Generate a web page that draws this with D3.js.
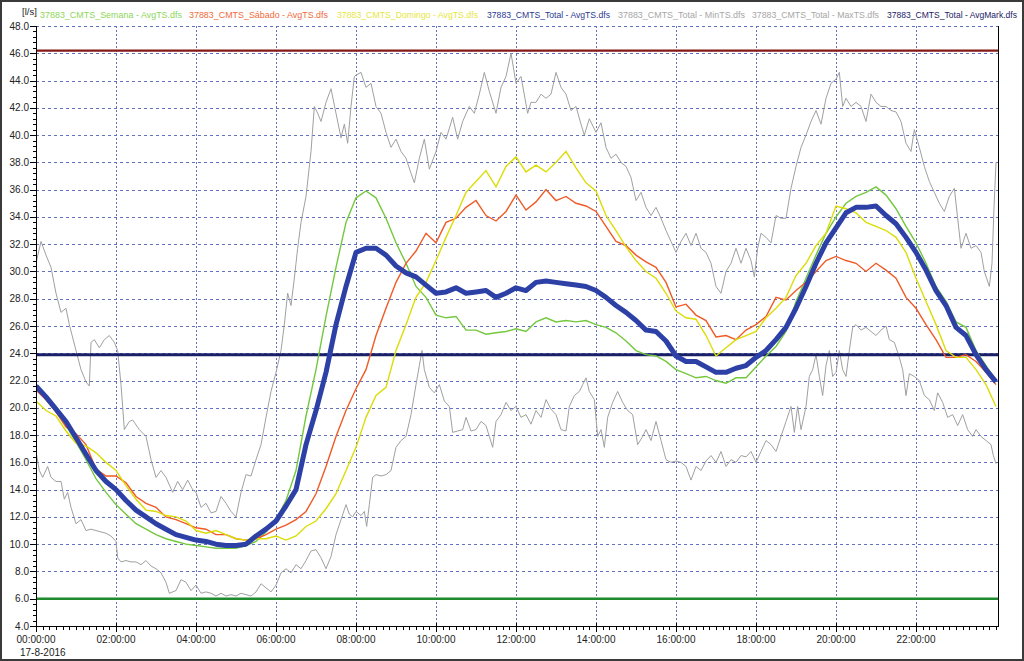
<!DOCTYPE html>
<html><head><meta charset="utf-8">
<script src="https://cdn.jsdelivr.net/npm/d3@7"></script>
<style>body{margin:0;background:#fff}svg{display:block}</style>
</head><body><svg id="c" width="1024" height="661"></svg>
<script>
// ---- DATA ----
const legendLabels = ["37883_CMTS_Semana - AvgTS.dfs","37883_CMTS_Sábado - AvgTS.dfs","37883_CMTS_Domingo - AvgTS.dfs","37883_CMTS_Total - AvgTS.dfs","37883_CMTS_Total - MinTS.dfs","37883_CMTS_Total - MaxTS.dfs","37883_CMTS_Total - AvgMark.dfs"];
const unitLabel = "[l/s]";
const dateLabel = "17-8-2016";
const yTicks = [4,6,8,10,12,14,16,18,20,22,24,26,28,30,32,34,36,38,40,42,44,46,48];
const xTickLabels = ["00:00:00","02:00:00","04:00:00","06:00:00","08:00:00","10:00:00","12:00:00","14:00:00","16:00:00","18:00:00","20:00:00","22:00:00"];
const stepMinutes = 15;
// 15-minute averages 00:00 .. 24:00
const semana = [21.5,20.6,19.7,18.7,17.5,16.2,14.8,13.8,12.9,12.2,11.5,11.1,10.7,10.4,10.2,10.0,9.9,9.8,9.7,9.7,9.7,9.9,10.2,10.9,11.8,13.2,15.4,19.4,22.8,26.7,30.3,33.6,35.4,35.9,35.4,33.9,32.1,30.6,28.9,28.1,26.8,26.6,26.7,25.7,25.7,25.4,25.5,25.6,25.8,25.6,26.3,26.6,26.3,26.4,26.3,26.4,26.1,25.9,25.5,24.9,24.2,23.9,23.8,23.4,22.8,22.5,22.2,22.3,22.0,21.8,22.2,22.2,23.0,23.8,24.5,25.6,27.8,29.5,31.2,32.8,34.0,35.0,35.5,35.8,36.2,35.6,34.6,33.3,32.1,30.6,28.9,27.8,26.3,25.9,24.2,23.1,22.0];
const sabado = [21.3,20.6,19.7,18.6,18.1,17.3,15.5,15.0,15.0,14.5,13.5,13.0,12.7,12.0,11.8,11.5,11.2,11.1,10.7,10.7,10.4,10.3,10.4,10.7,11.1,11.4,11.8,12.4,13.7,15.7,17.9,19.8,21.4,22.8,25.3,27.3,29.2,30.6,31.5,32.8,32.1,33.6,33.9,34.7,35.2,34.1,33.7,34.4,35.6,34.5,35.1,36.0,35.2,35.5,35.0,34.8,34.4,33.3,32.2,31.9,31.2,30.7,30.3,29.2,27.4,27.6,26.8,26.4,25.2,25.3,25.0,25.7,26.1,26.7,28.1,27.9,28.6,29.2,30.0,30.8,31.1,30.8,30.6,30.0,30.6,30.1,29.5,28.1,27.3,26.1,25.0,23.7,23.7,23.9,23.4,22.6,21.7];
const domingo = [20.5,19.8,19.4,18.3,17.4,17.2,16.7,16.0,15.4,14.3,13.3,12.5,12.4,12.1,12.0,11.7,11.0,10.8,11.0,10.7,10.4,10.3,10.4,10.4,10.6,10.3,10.6,11.3,11.7,12.6,13.7,15.4,17.1,19.3,20.9,21.5,24.2,26.1,28.1,29.2,30.8,32.5,34.1,35.8,36.6,37.4,36.2,37.7,38.4,37.3,37.8,37.3,38.0,38.8,37.6,36.5,35.9,34.1,33.0,31.8,30.8,30.0,29.5,28.4,27.1,26.6,26.5,25.3,23.8,24.4,25.0,25.3,25.6,26.6,27.3,28.1,29.7,30.6,31.9,32.8,34.8,34.6,34.3,33.6,33.3,33.0,32.5,31.4,29.5,27.8,26.1,24.2,23.7,23.7,22.8,21.7,20.1];
const total = [21.6,20.8,19.9,19.0,17.8,16.6,15.4,14.6,14.0,13.2,12.5,12.0,11.5,11.1,10.7,10.5,10.3,10.2,10.0,9.9,9.9,10.0,10.6,11.1,11.7,12.8,14.0,17.3,19.8,22.6,26.1,28.9,31.4,31.7,31.7,31.2,30.4,29.9,29.6,29.0,28.4,28.5,28.8,28.4,28.5,28.6,28.1,28.4,28.8,28.6,29.2,29.3,29.2,29.1,29.0,28.9,28.6,28.1,27.5,27.0,26.4,25.7,25.6,24.9,23.8,23.4,23.4,23.0,22.6,22.6,22.9,23.1,23.7,24.2,25.0,25.9,27.3,28.9,30.6,32.1,33.2,34.3,34.7,34.7,34.8,34.1,33.5,32.5,31.4,30.1,28.6,27.5,25.9,25.3,23.9,22.8,21.9];
// [minute of day, value]
const maxTS = [[0,30.6],[7.5,32.2],[15,31.2],[22.5,30.3],[30,28.4],[37.5,27.0],[45,27.3],[50,26.1],[60,24.2],[67.5,22.8],[75,21.9],[80,21.6],[82.5,24.8],[87.5,25.0],[95,24.4],[102.5,25.0],[110,25.3],[117.5,24.8],[122.5,24.2],[127.5,21.7],[132.5,18.4],[140,19.0],[145,19.1],[155,18.4],[165,17.9],[172.5,16.2],[180,14.9],[187.5,15.4],[195,14.9],[205,13.8],[212.5,14.6],[220,14.0],[227.5,14.7],[235,14.0],
[240,13.8],[247.5,12.7],[255,13.0],[262.5,12.3],[270,12.4],[277.5,13.5],[285,13.0],[292.5,12.4],[300,12.0],[307.5,13.8],[315,15.1],[322.5,15.0],[330,16.2],[337.5,17.3],[345,19.3],[352.5,21.2],[360,22.6],[367.5,24.2],[372.5,26.1],[377.5,28.4],[382.5,27.5],[387.5,29.5],[392.5,31.7],[397.5,33.6],[405,35.5],[412.5,38.8],[417.5,42.1],[422.5,41.6],[427.5,41.0],[435,42.4],[442.5,43.4],[450,41.6],[457.5,39.8],[462.5,40.8],[467.5,39.4],[472.5,42.1],[477.5,44.3],
[480,44.4],[487.5,44.6],[495,43.5],[502.5,43.8],[510,42.1],[517.5,41.6],[525,40.2],[532.5,39.1],[540,39.7],[547.5,38.8],[555,38.3],[562.5,37.2],[567.5,36.5],[575,38.3],[582.5,39.7],[590,37.5],[600,38.8],[607.5,40.2],[615,39.7],[625,41.3],[632.5,39.7],[640,41.0],[650,42.1],[657.5,41.6],[665,43.0],[672.5,44.6],[680,43.2],[690,41.6],[697.5,43.5],[705,44.3],[712.5,46.0],[720,43.8],
[727.5,44.3],[737.5,41.6],[742.5,42.4],[750,42.4],[757.5,43.0],[765,42.7],[772.5,43.0],[780,44.6],[787.5,43.5],[795,43.0],[802.5,41.8],[810,42.1],[817.5,40.8],[822.5,40.0],[830,41.2],[840,40.2],[847.5,40.9],[855,39.1],[862.5,38.3],[870,38.6],[877.5,38.0],[885,37.7],[892.5,36.9],[900,35.2],[907.5,35.8],[915,34.7],[922.5,34.1],[930,34.7],[937.5,33.9],[945,33.0],[952.5,32.2],[960,31.4],
[967.5,32.2],[975,32.8],[982.5,31.9],[990,32.8],[997.5,31.7],[1005,31.4],[1012.5,30.6],[1020,28.9],[1027.5,28.4],[1035,30.0],[1042.5,30.6],[1050,31.7],[1057.5,30.6],[1065,31.7],[1072.5,30.8],[1077.5,29.6],[1082.5,31.7],[1087.5,32.8],[1095,32.5],[1102.5,32.1],[1110,34.1],[1117.5,33.9],[1125,33.9],[1132.5,36.1],[1140,37.7],[1147.5,39.1],[1155,40.0],[1162.5,41.0],[1170,41.8],[1177.5,40.8],[1185,42.7],[1192.5,43.8],[1200,44.1],
[1205,44.6],[1210,42.1],[1215,42.7],[1222.5,42.1],[1230,42.4],[1237.5,42.1],[1245,41.0],[1252.5,43.0],[1260,42.4],[1267.5,42.1],[1275,42.1],[1282.5,41.8],[1290,41.7],[1297.5,41.0],[1305,39.4],[1312.5,38.8],[1317.5,40.4],[1325,39.1],[1332.5,37.7],[1340,36.6],[1347.5,35.8],[1355,35.0],[1362.5,34.4],[1370,35.5],[1377.5,36.1],[1382.5,33.9],[1387.5,31.7],[1395,32.8],[1402.5,31.7],[1410,31.9],[1417.5,31.4],[1422.5,30.0],[1430,28.9],[1434,30.6],[1437,34.7],[1440,38.0]];
const minTS = [[0,16.8],[5,15.4],[10,14.9],[17.5,15.7],[22.5,14.9],[30,14.6],[37.5,14.6],[42.5,13.3],[47.5,13.8],[52.5,12.7],[60,11.5],[67.5,11.8],[75,11.0],[82.5,11.1],[90,11.0],[97.5,10.9],[105,10.8],[112.5,10.6],[120,10.2],[122.5,9.0],[127.5,8.7],[135,8.8],[142.5,8.7],[150,8.7],[157.5,8.5],[165,8.8],[172.5,8.4],[180,8.2],[187.5,7.9],[195,7.2],[200,6.4],[210,6.6],[217.5,7.4],[225,7.2],[232.5,6.6],[240,7.0],
[247.5,6.4],[255,6.5],[262.5,6.4],[270,6.2],[277.5,6.4],[285,6.2],[292.5,6.3],[300,6.2],[307.5,6.4],[315,6.3],[322.5,6.2],[330,6.5],[337.5,7.1],[345,6.8],[352.5,6.5],[360,7.0],[367.5,7.9],[375,8.2],[382.5,7.9],[390,8.5],[397.5,8.2],[405,8.8],[412.5,9.5],[420,9.6],[427.5,9.0],[435,8.2],[442.5,9.1],[450,10.7],[457.5,11.8],[465,12.9],[470,12.2],[475,12.0],
[480,12.4],[487.5,12.1],[492.5,12.4],[496,11.3],[500,12.9],[505,14.9],[510,15.1],[517.5,15.0],[525,15.1],[532.5,15.4],[540,17.1],[547.5,17.6],[555,17.9],[562.5,19.5],[570,21.7],[575,23.1],[579,24.2],[582.5,22.8],[590,21.5],[597.5,21.1],[605,21.7],[612.5,20.5],[620,20.1],[625,18.2],[632.5,18.3],[640,18.4],[645,19.3],[652.5,18.3],[660,18.4],[667.5,19.0],[675,18.7],[680,17.9],[685,17.1],[690,19.0],[697.5,19.5],[705,20.4],[712.5,19.8],[720,20.1],
[727.5,19.3],[735,19.5],[742.5,18.8],[750,19.8],[757.5,19.3],[765,20.6],[772.5,19.9],[780,19.5],[787.5,18.4],[795,18.3],[800,20.1],[807.5,20.9],[815,21.2],[820,21.7],[825,22.2],[830,21.2],[837.5,20.6],[842.5,17.9],[847.5,18.4],[852.5,17.1],[857.5,19.3],[865,20.4],[872.5,21.2],[880,20.4],[887.5,19.8],[895,19.5],[902.5,17.3],[910,17.9],[915,18.4],[922.5,17.6],[930,19.0],[937.5,17.6],[945,16.2],[952.5,16.0],[960,16.1],
[967.5,16.0],[975,15.7],[982.5,14.7],[990,15.7],[997.5,15.4],[1005,16.1],[1012.5,16.5],[1020,16.0],[1027.5,16.8],[1035,15.7],[1042.5,16.2],[1050,16.0],[1057.5,16.5],[1065,16.4],[1072.5,16.8],[1080,16.0],[1087.5,16.8],[1095,17.6],[1102.5,17.3],[1110,16.8],[1117.5,17.9],[1125,19.0],[1132.5,20.1],[1137.5,18.2],[1142.5,20.1],[1147.5,18.4],[1155,20.1],[1160,22.3],[1165,22.8],[1170,23.9],[1175,22.3],[1180,20.9],[1185,23.1],[1190,24.2],[1195,22.3],[1200,22.6],
[1205,24.2],[1210,22.8],[1215,22.3],[1220,24.2],[1225,25.9],[1230,26.1],[1237.5,25.7],[1245,25.9],[1252.5,25.6],[1260,25.3],[1267.5,25.7],[1275,26.0],[1280,25.0],[1287.5,24.8],[1295,23.7],[1300,22.8],[1305,20.9],[1310,22.5],[1317.5,22.3],[1325,22.0],[1332.5,20.9],[1340,20.6],[1347.5,19.8],[1352.5,21.1],[1360,20.4],[1367.5,19.3],[1375,19.5],[1382.5,18.7],[1390,19.5],[1397.5,18.4],[1405,17.9],[1410,18.4],[1417.5,17.9],[1425,17.6],[1432.5,17.3],[1436,16.5],[1440,15.9]];
const markHigh = 46.2, markAvg = 23.9, markLow = 6.0;

// ---- DRAW ----
const svg = d3.select("#c");
const L=36, R=998, T=26, B=626;
const x = d3.scaleLinear().domain([0,1440]).range([L,996]);
const y = d3.scaleLinear().domain([4,48]).range([B,T]);
const font = "'Liberation Sans', Arial, sans-serif";

svg.append("rect").attr("x",0).attr("y",0).attr("width",1024).attr("height",661).attr("fill","#fff");

const clip = svg.append("defs").append("clipPath").attr("id","pc");
clip.append("rect").attr("x",L).attr("y",T-2).attr("width",R-L).attr("height",B-T+2);

// grid
const grid = svg.append("g").attr("stroke","#6272bc").attr("stroke-width",1).attr("stroke-dasharray","3,3").attr("shape-rendering","crispEdges");
grid.selectAll("line.h").data(yTicks.filter(v=>v>4)).join("line")
  .attr("x1",L).attr("x2",R).attr("y1",d=>Math.round(y(d))+0.5).attr("y2",d=>Math.round(y(d))+0.5);
grid.selectAll("line.v").data(d3.range(120,1440,120)).join("line")
  .attr("stroke-dasharray","2,2")
  .attr("y1",T).attr("y2",B).attr("x1",d=>Math.round(x(d))+0.5).attr("x2",d=>Math.round(x(d))+0.5);

const plot = svg.append("g").attr("clip-path","url(#pc)");
const lineP = d3.line().x(d=>x(d[0])).y(d=>y(d[1]));
const lineS = d3.line().x((d,i)=>x(i*stepMinutes)).y(d=>y(d));

plot.append("path").datum(maxTS).attr("d",lineP).attr("fill","none").attr("stroke","#a0a0a0").attr("stroke-width",1);
plot.append("path").datum(minTS).attr("d",lineP).attr("fill","none").attr("stroke","#a0a0a0").attr("stroke-width",1);

// marks
[[markHigh,"#861818",2.2],[markAvg,"#1a2068",3],[markLow,"#1f8a2c",2.5]].forEach(m=>{
  plot.append("line").attr("x1",L).attr("x2",R).attr("y1",y(m[0])).attr("y2",y(m[0]))
    .attr("stroke",m[1]).attr("stroke-width",m[2]);
});

plot.append("path").datum(semana).attr("d",lineS).attr("fill","none").attr("stroke","#74c83e").attr("stroke-width",1.4);
plot.append("path").datum(sabado).attr("d",lineS).attr("fill","none").attr("stroke","#f05a26").attr("stroke-width",1.4);
plot.append("path").datum(domingo).attr("d",lineS).attr("fill","none").attr("stroke","#dcdc08").attr("stroke-width",1.4);
plot.append("path").datum(total).attr("d",lineS).attr("fill","none").attr("stroke","#2d40a6").attr("stroke-width",5).attr("stroke-linejoin","round");

// frame / axes
const ax = svg.append("g").attr("stroke","#000").attr("shape-rendering","crispEdges");
ax.append("line").attr("x1",L+0.5).attr("x2",L+0.5).attr("y1",T).attr("y2",B+1);
ax.append("line").attr("x1",L).attr("x2",R+1).attr("y1",B+0.5).attr("y2",B+0.5);
ax.append("line").attr("x1",R+0.5).attr("x2",R+0.5).attr("y1",T).attr("y2",B+1);
// y ticks
const yMinor = d3.range(40,481,4).map(v=>v/10);
ax.selectAll("line.ym").data(yMinor).join("line")
  .attr("x1",L-3).attr("x2",L).attr("y1",d=>Math.round(y(d))+0.5).attr("y2",d=>Math.round(y(d))+0.5);
ax.selectAll("line.yM").data(yTicks).join("line")
  .attr("x1",L-6).attr("x2",L).attr("y1",d=>Math.round(y(d))+0.5).attr("y2",d=>Math.round(y(d))+0.5);
// x ticks
ax.selectAll("line.xm").data(d3.range(0,1441,10)).join("line")
  .attr("y1",B).attr("y2",B+4).attr("x1",d=>Math.round(x(d))+0.5).attr("x2",d=>Math.round(x(d))+0.5);
ax.selectAll("line.xM").data(d3.range(0,1440,120)).join("line")
  .attr("y1",B-3).attr("y2",B+6).attr("x1",d=>Math.round(x(d))+0.5).attr("x2",d=>Math.round(x(d))+0.5);

// labels
svg.append("g").selectAll("text").data(yTicks).join("text")
  .attr("x",L-7).attr("y",d=>y(d)+3.5).attr("text-anchor","end")
  .attr("font-family",font).attr("font-size",10).attr("fill","#222")
  .text(d=>d.toFixed(1));
svg.append("g").selectAll("text").data(xTickLabels).join("text")
  .attr("x",(d,i)=>x(i*120)).attr("y",643).attr("text-anchor","middle")
  .attr("font-family",font).attr("font-size",10).attr("fill","#222")
  .text(d=>d);
svg.append("text").attr("x",20).attr("y",656).attr("font-family",font).attr("font-size",10).attr("fill","#222").text(dateLabel);
svg.append("text").attr("x",22).attr("y",15).attr("font-family",font).attr("font-size",9.5).attr("fill","#222").text(unitLabel);

// legend
const legX = [40,189,337,487,618,752,887];
const legW = [142,139,141,123,127,127,130];
const legF = [9,9,9,9,9,9,8.6];
const legC = ["#8ed65a","#f26a3c","#e6e640","#2a3992","#a6a6a6","#a6a6a6","#1c2266"];
svg.append("g").selectAll("text").data(legendLabels).join("text")
  .attr("x",(d,i)=>legX[i]).attr("y",18)
  .attr("font-family",font).attr("font-size",(d,i)=>legF[i]).attr("fill",(d,i)=>legC[i])
  .attr("textLength",(d,i)=>legW[i]).attr("lengthAdjust","spacingAndGlyphs")
  .text(d=>d);

// outer frame
svg.append("rect").attr("x",1).attr("y",1).attr("width",1022).attr("height",659)
  .attr("fill","none").attr("stroke","#3a3a3a").attr("stroke-width",2);
</script></body></html>
